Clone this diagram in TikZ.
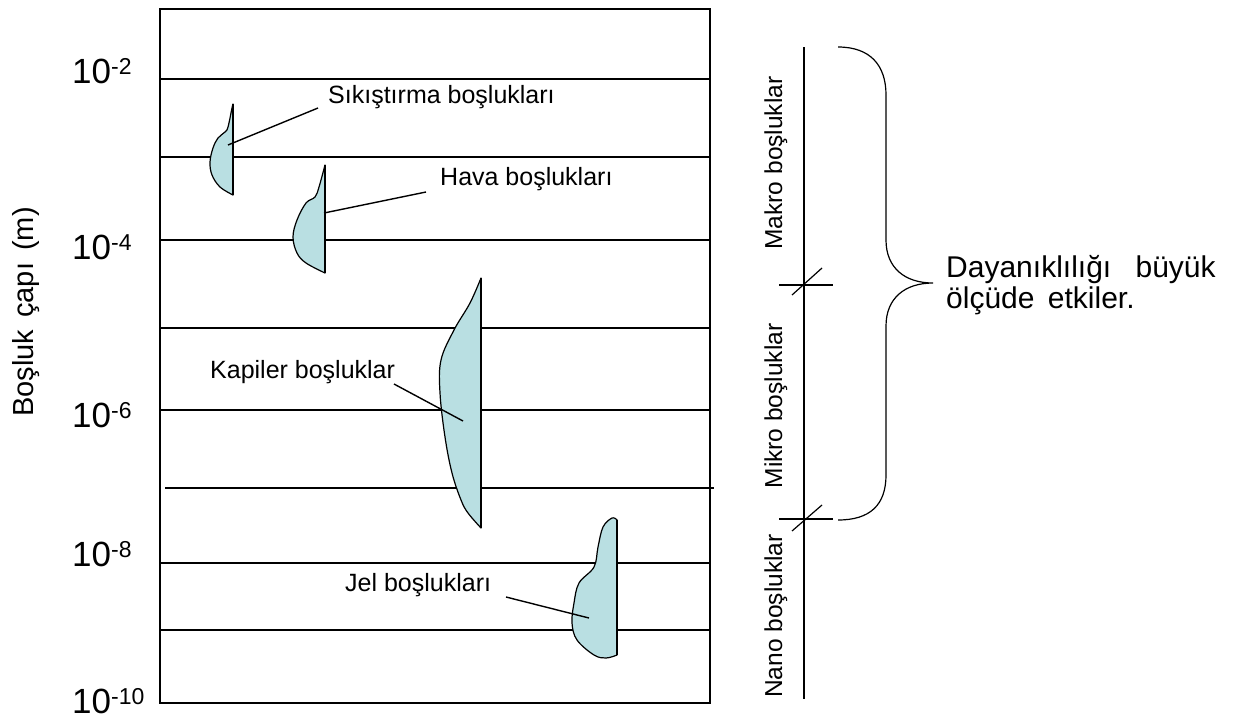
\documentclass[tikz,border=0pt]{standalone}
\usepackage{fontspec}
\setmainfont{Liberation Sans}
\definecolor{pore}{RGB}{185,223,226}
\begin{document}
\begin{tikzpicture}[x=1pt,y=-1pt,
  thinline/.style={line width=1.2pt},
  thickline/.style={line width=2.2pt},
  frameline/.style={line width=2.6pt},
  poreshape/.style={fill=pore,draw=black,line width=1.2pt,line join=round},
  poreedge/.style={line width=2.4pt},
  leader/.style={line width=1.4pt},
  lbl/.style={inner sep=0pt,anchor=base west,font=\fontsize{25}{29}\selectfont},
  tick/.style={inner sep=0pt,anchor=base west,font=\fontsize{35}{40}\selectfont},
  vlbl/.style={inner sep=0pt,rotate=90,anchor=base,font=\fontsize{24.5}{29}\selectfont},
  big/.style={inner sep=0pt,anchor=base west,font=\fontsize{30}{36}\selectfont}
]
\useasboundingbox (0,0) rectangle (1233,718);
\newcommand{\sexp}[1]{\raisebox{9pt}{\fontsize{23}{26}\selectfont #1}}

% grid lines
\draw[thickline] (160,79) -- (710,79);
\draw[thinline] (160,157) -- (710,157);
\draw[thinline] (160,240) -- (710,240);
\draw[thinline] (160,328) -- (710,328);
\draw[thickline] (160,410) -- (710,410);
\draw[thinline] (165,488) -- (714,488);
\draw[thinline] (160,563) -- (710,563);
\draw[thinline] (160,630) -- (710,630);
\draw[frameline] (160,9) rectangle (710,703);

% tick labels
\node[tick] (t2) at (72,83) {10\sexp{-2}};
\node[tick] (t4) at (72,259) {10\sexp{-4}};
\node[tick] (t6) at (72,427) {10\sexp{-6}};
\node[tick] (t8) at (72,566) {10\sexp{-8}};
\node[tick] (t10) at (72,713) {10\sexp{-10}};
\node[vlbl,font=\fontsize{29}{34}\selectfont] (ylab) at (33,312) {Boşluk\hspace{4pt} çapı\hspace{4pt} (m)};

% pores
\filldraw[poreshape] plot[smooth,tension=0.6] coordinates {(233,104) (232,108) (228,127) (225,132) (218,138) (213,148) (210,162) (212,175) (220,187) (233,195)} -- cycle;
\draw[poreedge] (233,104) -- (233,195);
\filldraw[poreshape] plot[smooth,tension=0.6] coordinates {(325,165) (319,187) (315,197) (306,203) (297,220) (293,237) (297,253) (306,263) (325,273)} -- cycle;
\draw[poreedge] (325,165) -- (325,273);
\filldraw[poreshape] plot[smooth,tension=0.6] coordinates {(481,278) (470,303) (454,330) (441,360) (440,393) (445,437) (452,473) (461,500) (468,513) (481,528)} -- cycle;
\draw[poreedge] (481,278) -- (481,528);
\filldraw[poreshape] plot[smooth,tension=0.6] coordinates {(617,520) (612,518) (603,527) (598,547) (594,567) (579,583) (574,603) (572,623) (577,640) (594,655) (606,658) (617,655)} -- cycle;
\draw[poreedge] (617,520) -- (617,655);

% labels
\node[lbl] (ls) at (328,103) {Sıkıştırma boşlukları};
\node[lbl] (lh) at (440,185) {Hava boşlukları};
\node[lbl] (lk) at (210,378) {Kapiler boşluklar};
\node[lbl] (lj) at (345,591) {Jel boşlukları};

\coordinate (s1) at (318,108); \coordinate (s2) at (228,145);
\coordinate (h1) at (426,192); \coordinate (h2) at (324,213);
\coordinate (k1) at (394,384); \coordinate (k2) at (463,421);
\coordinate (j1) at (506,597); \coordinate (j2) at (589,618);
\draw[leader] (s1) -- (s2);
\draw[leader] (h1) -- (h2);
\draw[leader] (k1) -- (k2);
\draw[leader] (j1) -- (j2);

% right scale
\coordinate (atop) at (804,47);
\coordinate (abot) at (804,699);
\draw[thinline] (atop) -- (abot);
\draw[thinline] (779,285) -- (833,285);
\draw[thinline] (792,295) -- (822,268);
\draw[thinline] (779,519) -- (833,519);
\draw[thinline] (792,531) -- (822,505);
\node[vlbl] (mak) at (782,163) {Makro boşluklar};
\node[vlbl] (mik) at (782,406) {Mikro boşluklar};
\node[vlbl] (nan) at (782,616) {Nano boşluklar};

% brace
\draw[thinline] (838,47) .. controls (870,47) and (886,65) .. (886,95) -- (886,240)
  .. controls (886,268) and (905,283) .. (933,283)
  .. controls (905,283) and (886,298) .. (886,326) -- (886,475)
  .. controls (886,505) and (870,520) .. (838,520);

\node[big] (d1) at (946,277) {Dayanıklılığı\hspace{16pt} büyük};
\node[big] (d2) at (946,308) {ölçüde\hspace{5pt} etkiler.};
\end{tikzpicture}
\end{document}
